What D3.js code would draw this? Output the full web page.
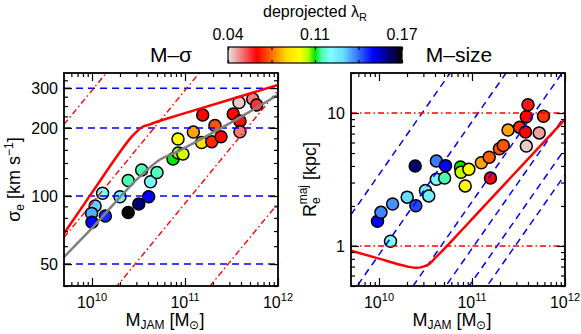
<!DOCTYPE html>
<meta charset="utf-8">
<head>
    <title>M-sigma and M-size coloured by deprojected lambda_R</title>
</head>
<style>
  body { margin: 0; background: #fff; }
  svg { font-family: "Liberation Sans", Arial, Helvetica, sans-serif; }
  .frame { fill: none; stroke: #000; stroke-width: 1.8px; }
  .axis path { display: none; }
  .axis line { stroke: #000; stroke-width: 1.2px; }
  .dot { stroke: #000; stroke-width: 1.5px; }
  .sdash { fill: none; stroke: #0000ff; stroke-width: 1.5px; stroke-dasharray: 7,5; }
  .rdot { fill: none; stroke: #ff0000; stroke-width: 1.4px; stroke-dasharray: 6,3,1.5,3; }
  .zoe { fill: none; stroke: #ff0000; stroke-width: 2.5px; }
  .fit { fill: none; stroke: #808080; stroke-width: 2.5px; }
</style>
<body>
<script src="https://d3js.org/d3.v7.min.js"></script>
<script>
// ---- M-sigma panel (M_JAM in Msun, sigma_e in km/s, deprojected lambda_R)
var msMass = [1.08e10, 9.9e9, 1.39e10, 1.0e10, 1.30e10, 2.0e10, 2.45e10, 2.45e10, 3.18e10, 3.42e10,
              4.07e10, 4.26e10, 5.0e10, 7.43e10, 8.47e10, 9.5e10, 8.41e10, 1.23e11, 1.51e11, 1.55e11,
              1.94e11, 2.1e11, 2.44e11, 3.3e11, 3.9e11, 3.9e11, 3.81e11, 5.35e11, 5.9e11];
var msSigma = [90.3, 83.8, 81.6, 76.6, 102.8, 99.2, 84.5, 117.1, 92.2, 130.3,
               99.3, 115.7, 127, 145.8, 154.9, 153.4, 178.7, 191.9, 172.5, 228.2,
               173.9, 205, 183, 230.6, 214.7, 192.5, 259.3, 268.7, 252.6];
var msLambda = [0.128, 0.131, 0.144, 0.148, 0.116, 0.121, 0.170, 0.110, 0.160, 0.110,
                0.148, 0.119, 0.111, 0.105, 0.100, 0.097, 0.093, 0.078, 0.0855, 0.062,
                0.066, 0.070, 0.062, 0.062, 0.063, 0.050, 0.0426, 0.050, 0.057];

// ---- M-size panel (M_JAM in Msun, R_e^maj in kpc, deprojected lambda_R)
var szMass = [9.64e9, 1.05e10, 1.40e10, 1.33e10, 2.01e10, 2.49e10, 2.45e10, 3.16e10, 3.43e10, 4.14e10,
              5.19e10, 4.14e10, 5.08e10, 7.52e10, 7.62e10, 9.25e10, 8.45e10, 1.26e11, 1.53e11, 1.58e11,
              1.97e11, 2.17e11, 2.44e11, 3.25e11, 3.76e11, 3.84e11, 4.0e11, 5.87e11, 5.28e11, 3.84e11];
var szRe = [1.535, 1.79, 2.07, 1.084, 2.33, 2.01, 4.0, 2.615, 2.38, 4.36,
            4.02, 3.18, 3.24, 3.93, 3.58, 3.77, 2.83, 4.23, 4.65, 3.24,
            5.38, 5.69, 7.44, 7.8, 7.19, 9.37, 11.53, 9.45, 7.09, 5.64];
var szLambda = [0.148, 0.135, 0.134, 0.116, 0.126, 0.141, 0.161, 0.121, 0.121, 0.136,
                0.148, 0.118, 0.110, 0.105, 0.0985, 0.093, 0.092, 0.078, 0.071, 0.062,
                0.070, 0.070, 0.078, 0.066, 0.062, 0.062, 0.0595, 0.067, 0.0465, 0.0426];

// grey fitted M-sigma relation
var fitMass = [5e9, 1.03e10, 3.56e10, 5.4e10, 8e10, 1.5e11, 4e11, 1e12];
var fitSigma = [53.7, 73.1, 126, 145, 156, 179, 224, 280];

// zone of exclusion (solid red)
var zoeMass = [5e9, 1e10, 2e10, 2.5e10, 3e10, 3.5e10, 4e10, 5e10, 7e10, 1e11, 1e12];
var zoeRe = [0.922, 0.803, 0.702, 0.685, 0.700, 0.735, 0.809, 0.947, 1.217, 1.591, 8.97];
var zoeSigma = [68.3, 103.5, 156.5, 177.2, 192.0, 202.4, 206.2, 213.1, 222.4, 232.5, 309.7];

// reference lines: constant R_e (kpc) and constant sigma (km/s)
var refRe = [0.1, 1, 10, 100];
var refSigma = [50, 100, 200, 300];
var refSigmaDiag = [50, 100, 200, 300, 400, 500];

// colour bar
var lamMin = 0.04, lamMax = 0.17;
var cbLabels = ["0.04", "0.11", "0.17"];
var cmapPos = [0, 0.1667, 0.3333, 0.4118, 0.4608, 0.5, 0.5392, 0.5882, 0.6667, 0.8333, 1];
var cmapColors = ["#e6e6e6", "#ff0000", "#ffd900", "#ffff00", "#b3ff00", "#00e600",
                  "#4dffb3", "#80ffff", "#66d9ff", "#0000ff", "#030303"];

// axis ticks
var xMajor = [1e10, 1e11, 1e12];
var xMinor = [6e9, 7e9, 8e9, 9e9, 2e10, 3e10, 4e10, 5e10, 6e10, 7e10, 8e10, 9e10,
              2e11, 3e11, 4e11, 5e11, 6e11, 7e11, 8e11, 9e11];
var sigMajor = [50, 100, 200, 300];
var sigMinor = [40, 60, 70, 80, 90, 120, 140, 160, 180, 225, 250, 275, 325];
var reMajor = [1, 10];
var reMinor = [0.5, 0.6, 0.7, 0.8, 0.9, 2, 3, 4, 5, 6, 7, 8, 9, 20];

var G = 4.3009e-3; // pc Msun^-1 (km/s)^2, with M = 5 sigma^2 R / G
function virialSigma(m, re) { return Math.sqrt(G * m / (5 * re * 1000)); }
function virialRe(m, s) { return G * m / (5 * s * s) / 1000; }

var pw = 214, ph = 213;
var svg = d3.select("body").append("svg").attr("width", 581).attr("height", 334);

var xScale = d3.scaleLog().domain([5e9, 1e12]).range([0, pw]);
var ySig = d3.scaleLog().domain([40, 350]).range([ph, 0]);
var yRe = d3.scaleLog().domain([0.5, 20]).range([ph, 0]);
var color = d3.scaleLinear()
    .domain(cmapPos.map(function(p) { return lamMin + p * (lamMax - lamMin); }))
    .range(cmapColors).clamp(true);

var defs = svg.append("defs");
defs.append("clipPath").attr("id", "clip")
  .append("rect").attr("width", pw).attr("height", ph);
var grad = defs.append("linearGradient").attr("id", "cbar");
cmapPos.forEach(function(p, i) {
  grad.append("stop").attr("offset", p * 100 + "%").attr("stop-color", cmapColors[i]);
});

function drawTicks(g, y, major, minor) {
  [[xMajor, 8], [xMinor, 4]].forEach(function(s) {
    g.append("g").attr("class", "axis").attr("transform", "translate(0," + ph + ")")
      .call(d3.axisBottom(xScale).tickValues(s[0]).tickSize(-s[1]).tickSizeOuter(0).tickFormat(""));
    g.append("g").attr("class", "axis")
      .call(d3.axisTop(xScale).tickValues(s[0]).tickSize(-s[1]).tickSizeOuter(0).tickFormat(""));
  });
  [[major, 8], [minor, 4]].forEach(function(s) {
    g.append("g").attr("class", "axis")
      .call(d3.axisLeft(y).tickValues(s[0]).tickSize(-s[1]).tickSizeOuter(0).tickFormat(""));
    g.append("g").attr("class", "axis").attr("transform", "translate(" + pw + ",0)")
      .call(d3.axisRight(y).tickValues(s[0]).tickSize(-s[1]).tickSizeOuter(0).tickFormat(""));
  });
  xMajor.forEach(function(v) {
    var t = g.append("text").attr("x", xScale(v)).attr("y", ph + 22)
        .attr("text-anchor", "middle").attr("font-size", 16);
    t.append("tspan").text("10");
    t.append("tspan").attr("font-size", 11).attr("dy", -7).text(Math.round(Math.log10(v)));
  });
  major.forEach(function(v) {
    g.append("text").attr("x", -6).attr("y", y(v)).attr("dy", "0.35em")
      .attr("text-anchor", "end").attr("font-size", 16).text(v);
  });
  var xt = g.append("text").attr("x", pw / 2 - 6).attr("y", ph + 40)
      .attr("text-anchor", "middle").attr("font-size", 18);
  xt.append("tspan").text("M");
  xt.append("tspan").attr("font-size", 12).attr("dy", 3).text("JAM");
  xt.append("tspan").attr("dy", -3).text(" [M");
  xt.append("tspan").attr("font-size", 12).attr("dy", 3).text("\u2299");
  xt.append("tspan").attr("dy", -3).text("]");
}

function drawDots(g, mass, vals, lam, y) {
  g.selectAll(".dot").data(mass).enter().append("circle")
    .attr("class", "dot")
    .attr("r", 6)
    .attr("cx", function(d) { return xScale(d); })
    .attr("cy", function(d, i) { return y(vals[i]); })
    .attr("fill", function(d, i) { return color(lam[i]); });
}

// ---------------- left panel: M - sigma
var left = svg.append("g").attr("transform", "translate(64,73)");
var lp = left.append("g").attr("clip-path", "url(#clip)");
drawDots(lp, msMass, msSigma, msLambda, ySig);

lp.selectAll(".sdash").data(refSigma).enter().append("line")
  .attr("class", "sdash")
  .attr("x1", 0).attr("x2", pw)
  .attr("y1", function(d) { return ySig(d); }).attr("y2", function(d) { return ySig(d); });

lp.selectAll(".rdot").data(refRe).enter().append("line")
  .attr("class", "rdot")
  .attr("x1", xScale(5e9)).attr("x2", xScale(1e12))
  .attr("y1", function(d) { return ySig(virialSigma(5e9, d)); })
  .attr("y2", function(d) { return ySig(virialSigma(1e12, d)); });

var lineSig = d3.line()
    .x(function(d) { return xScale(d[0]); })
    .y(function(d) { return ySig(d[1]); })
    .curve(d3.curveMonotoneX);
lp.append("path").attr("class", "zoe")
  .attr("d", lineSig(zoeMass.map(function(m, i) { return [m, zoeSigma[i]]; })));
lp.append("path").attr("class", "fit")
  .attr("d", lineSig(fitMass.map(function(m, i) { return [m, fitSigma[i]]; })));

left.append("rect").attr("class", "frame").attr("width", pw).attr("height", ph);
drawTicks(left, ySig, sigMajor, sigMinor);

var yt1 = left.append("text").attr("transform", "translate(-44," + ph / 2 + ") rotate(-90)")
    .attr("text-anchor", "middle").attr("font-size", 18);
yt1.append("tspan").text("\u03c3");
yt1.append("tspan").attr("font-size", 12).attr("dy", 4).text("e");
yt1.append("tspan").attr("dy", -4).text(" [km s");
yt1.append("tspan").attr("font-size", 12).attr("dy", -7).text("\u22121");
yt1.append("tspan").attr("dy", 7).text("]");

// ---------------- right panel: M - size
var right = svg.append("g").attr("transform", "translate(351,73)");
var rp = right.append("g").attr("clip-path", "url(#clip)");
drawDots(rp, szMass, szRe, szLambda, yRe);

rp.selectAll(".sdash").data(refSigmaDiag).enter().append("line")
  .attr("class", "sdash")
  .attr("x1", xScale(5e9)).attr("x2", xScale(1e12))
  .attr("y1", function(d) { return yRe(virialRe(5e9, d)); })
  .attr("y2", function(d) { return yRe(virialRe(1e12, d)); });

rp.selectAll(".rdot").data(refRe).enter().append("line")
  .attr("class", "rdot")
  .attr("x1", 0).attr("x2", pw)
  .attr("y1", function(d) { return yRe(d); }).attr("y2", function(d) { return yRe(d); });

var lineRe = d3.line()
    .x(function(d) { return xScale(d[0]); })
    .y(function(d) { return yRe(d[1]); })
    .curve(d3.curveMonotoneX);
rp.append("path").attr("class", "zoe")
  .attr("d", lineRe(zoeMass.map(function(m, i) { return [m, zoeRe[i]]; })));

right.append("rect").attr("class", "frame").attr("width", pw).attr("height", ph);
drawTicks(right, yRe, reMajor, reMinor);

var yt2 = right.append("text").attr("transform", "translate(-35," + ph / 2 + ") rotate(-90)")
    .attr("text-anchor", "middle").attr("font-size", 18);
yt2.append("tspan").text("R");
yt2.append("tspan").attr("font-size", 12).attr("dy", 4).text("e");
yt2.append("tspan").attr("font-size", 12).attr("dx", -7).attr("dy", -13).text("maj");
yt2.append("tspan").attr("dy", 9).text(" [kpc]");

// ---------------- colour bar and titles
var cb = svg.append("g").attr("transform", "translate(228,47)");
var cbw = 174, cbh = 16;
cb.append("rect").attr("width", cbw).attr("height", cbh).attr("fill", "url(#cbar)")
  .attr("stroke", "#000").attr("stroke-width", 1.2);
var cbScale = d3.scaleLinear().domain([lamMin, lamMax]).range([0, cbw]);
var cbTicks = d3.range(5).map(function(i) { return lamMin + i * (lamMax - lamMin) / 4; });
cb.append("g").attr("class", "axis")
  .call(d3.axisTop(cbScale).tickValues(cbTicks).tickSize(-3).tickSizeOuter(0).tickFormat(""));
cb.append("g").attr("class", "axis").attr("transform", "translate(0," + cbh + ")")
  .call(d3.axisBottom(cbScale).tickValues(cbTicks).tickSize(-3).tickSizeOuter(0).tickFormat(""));
cbLabels.forEach(function(s, i) {
  cb.append("text").attr("x", cbScale(lamMin + i * (lamMax - lamMin) / 2)).attr("y", -7)
    .attr("text-anchor", "middle").attr("font-size", 16).text(s);
});
var ct = svg.append("text").attr("x", 315).attr("y", 17).attr("text-anchor", "middle")
    .attr("font-size", 16);
ct.append("tspan").text("deprojected \u03bb");
ct.append("tspan").attr("font-size", 11).attr("dy", 4).text("R");

svg.append("text").attr("x", 171).attr("y", 62).attr("text-anchor", "middle")
  .attr("font-size", 21).text("M\u2013\u03c3");
svg.append("text").attr("x", 459).attr("y", 62).attr("text-anchor", "middle")
  .attr("font-size", 21).text("M\u2013size");
</script>
</body>
